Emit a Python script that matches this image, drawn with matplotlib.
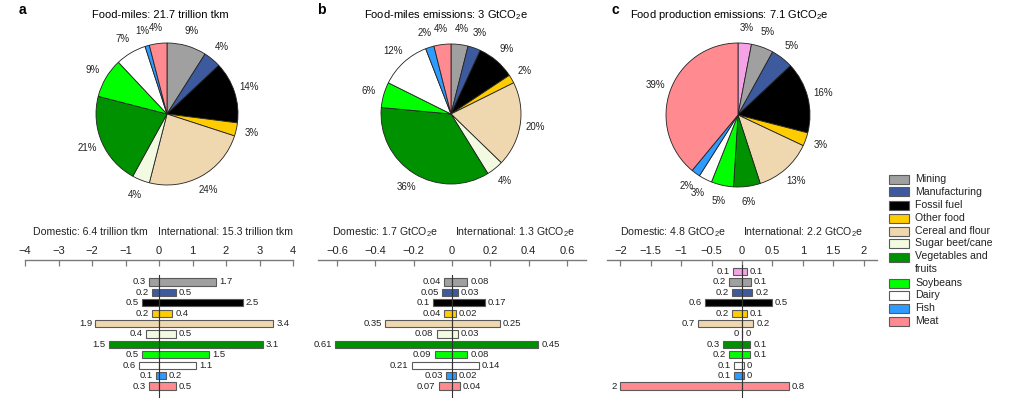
import matplotlib
matplotlib.use("Agg")
import matplotlib.pyplot as plt
from matplotlib.patches import Rectangle

plt.rcParams['font.family'] = ['Liberation Sans', 'DejaVu Sans']
plt.rcParams['mathtext.fontset'] = 'custom'
plt.rcParams['mathtext.rm'] = 'Liberation Sans'
plt.rcParams['mathtext.it'] = 'Liberation Sans:italic'
plt.rcParams['mathtext.bf'] = 'Liberation Sans:bold'

# ---------------- data ----------------
categories = ["Mining", "Manufacturing", "Fossil fuel", "Other food", "Cereal and flour",
              "Sugar beet/cane", "Vegetables and\nfruits", "Soybeans", "Dairy", "Fish", "Meat"]
colors = ["#A0A0A0", "#3D5A9E", "#000000", "#FFCC00", "#EFD8B0",
          "#F2FAE1", "#009100", "#00FF00", "#FFFFFF", "#2E9BFF", "#FF8A8F"]
other_color = "#F5A3E6"

# panel a: food-miles (trillion tkm)
pie_a = [9, 4, 14, 3, 24, 4, 21, 9, 7, 1, 4]
dom_a = [0.3, 0.2, 0.5, 0.2, 1.9, 0.4, 1.5, 0.5, 0.6, 0.1, 0.3]
int_a = [1.7, 0.5, 2.5, 0.4, 3.4, 0.5, 3.1, 1.5, 1.1, 0.2, 0.5]

# panel b: food-miles emissions (GtCO2e)
pie_b = [4, 3, 9, 2, 20, 4, 36, 6, 12, 2, 4]
dom_b = [0.04, 0.05, 0.1, 0.04, 0.35, 0.08, 0.61, 0.09, 0.21, 0.03, 0.07]
int_b = [0.08, 0.03, 0.17, 0.02, 0.25, 0.03, 0.45, 0.08, 0.14, 0.02, 0.04]

# panel c: food production emissions (GtCO2e), with an extra "other" (pink) category first
pie_c = [3, 5, 5, 16, 3, 13, 0, 6, 5, 3, 2, 39]
dom_c = [0.14, 0.22, 0.16, 0.61, 0.16, 0.72, 0.0, 0.31, 0.21, 0.13, 0.13, 2.0]
int_c = [0.08, 0.14, 0.17, 0.49, 0.08, 0.18, 0.0, 0.13, 0.13, 0.03, 0.03, 0.77]

titles = ["Food-miles: 21.7 trillion tkm",
          "Food-miles emissions: 3 GtCO$_2$e",
          "Food production emissions: 7.1 GtCO$_2$e"]
dom_titles = ["Domestic: 6.4 trillion tkm", "Domestic: 1.7 GtCO$_2$e", "Domestic: 4.8 GtCO$_2$e"]
int_titles = ["International: 15.3 trillion tkm", "International: 1.3 GtCO$_2$e",
              "International: 2.2 GtCO$_2$e"]
ticks_a = [-4, -3, -2, -1, 0, 1, 2, 3, 4]
ticks_b = [-0.6, -0.4, -0.2, 0, 0.2, 0.4, 0.6]
ticks_c = [-2, -1.5, -1, -0.5, 0, 0.5, 1, 1.5, 2]

W, H = 1024, 412
fig = plt.figure(figsize=(W / 100, H / 100), dpi=100)


def fx(px):
    return px / W


def fy(py):
    return 1 - py / H


def pie_panel(cx, cy, r, vals, cols):
    ax = fig.add_axes([fx(cx - r), fy(cy + r), 2 * r / W, 2 * r / H])
    v = [p for p in vals if p > 0]
    c = [cc for p, cc in zip(vals, cols) if p > 0]
    ax.pie(v, colors=c, startangle=90, counterclock=False,
           labels=[f"{p}%" for p in v], labeldistance=1.22,
           wedgeprops=dict(edgecolor="#222222", linewidth=0.6),
           textprops=dict(fontsize=7, color="#222222", ha="center", va="center"))
    ax.set_xlim(-1, 1)
    ax.set_ylim(-1, 1)
    ax.set_aspect("auto")
    return ax


def fmt(v, d):
    r = round(v, d)
    s = f"{r:.{d}f}".rstrip("0").rstrip(".")
    return "0" if s in ("", "-0") else s


def bar_panel(x0, x1, xlim, ticks, dom, inn, cols, d, ticklabels):
    ax = fig.add_axes([fx(x0), fy(400), (x1 - x0) / W, 140 / H])
    n = len(dom)
    ys = list(range(n))
    ax.barh(ys, [-v for v in dom], height=0.7, color=cols, edgecolor="#5a5a5a", linewidth=0.8, zorder=2)
    ax.barh(ys, inn, height=0.7, color=cols, edgecolor="#5a5a5a", linewidth=0.8, zorder=2)
    ax.plot([0, 0], [-0.65, n - 1 + 1.05], color="#333333", lw=0.8, zorder=3)
    span = xlim[1] - xlim[0]
    off = span * 0.012
    for y, dv, iv in zip(ys, dom, inn):
        ax.text(-dv - off, y, fmt(dv, d), ha="right", va="center", fontsize=6.8, color="#222222")
        ax.text(iv + off, y, fmt(iv, d), ha="left", va="center", fontsize=6.8, color="#222222")
    ax.set_xlim(*xlim)
    ax.set_ylim(n - 1 + 1.346, n - 1 - 12.115)
    for s in ["left", "right", "bottom"]:
        ax.spines[s].set_visible(False)
    ax.spines["top"].set_color("#7a7a7a")
    ax.spines["top"].set_linewidth(1.0)
    ax.xaxis.tick_top()
    ax.set_xticks(ticks)
    ax.set_xticklabels(ticklabels)
    ax.tick_params(axis="x", direction="in", length=4, width=0.9, color="#7a7a7a",
                   labelsize=8, labelcolor="#222222", pad=3)
    ax.set_yticks([])
    ax.patch.set_alpha(0)
    return ax


def tlabels(ticks):
    return [f"{t:g}".replace("-", "\u2212") for t in ticks]


# pies
pie_panel(167, 114, 71, pie_a, colors)
pie_panel(451, 114, 70, pie_b, colors)
pie_panel(738, 115, 72, pie_c, [other_color] + colors)

# titles
fig.text(fx(160), fy(15), titles[0], ha="center", va="center", fontsize=8)
fig.text(fx(446), fy(15), titles[1], ha="center", va="center", fontsize=8)
fig.text(fx(729), fy(15), titles[2], ha="center", va="center", fontsize=8)
for lab, px in zip(["a", "b", "c"], [22, 321, 615]):
    fig.text(fx(px), fy(10), lab, ha="center", va="center", fontsize=10, fontweight="bold")

# bars
bar_panel(25, 293, (-4, 4), ticks_a, dom_a, int_a, colors, 1, tlabels(ticks_a))
bar_panel(318, 586, (-0.7, 0.7), ticks_b, dom_b, int_b, colors, 2, tlabels(ticks_b))
bar_panel(607, 877, (-2.22, 2.22), ticks_c, dom_c, int_c, [other_color] + colors, 1, tlabels(ticks_c))

# domestic / international headers
for (lx, rx), dt, it in zip([(33, 293), (332, 575), (620, 863)], dom_titles, int_titles):
    fig.text(fx(lx), fy(232), dt, ha="left", va="center", fontsize=7.6, color="#222222")
    fig.text(fx(rx), fy(232), it, ha="right", va="center", fontsize=7.6, color="#222222")

# legend (manual)
leg_y = [179, 192, 205, 218, 231, 243, 257, 283, 295, 308, 321]
for lab, col, y in zip(categories, colors, leg_y):
    fig.add_artist(Rectangle((fx(889), fy(y + 4.5)), 20 / W, 9 / H, transform=fig.transFigure,
                             facecolor=col, edgecolor="#5a5a5a", linewidth=0.8))
    if "\n" in lab:
        fig.text(fx(915), fy(y - 6), lab, ha="left", va="top", fontsize=7.6,
                 color="#222222", linespacing=1.35)
    else:
        fig.text(fx(915), fy(y), lab, ha="left", va="center", fontsize=7.6, color="#222222")

fig.savefig("out.png", dpi=100)
